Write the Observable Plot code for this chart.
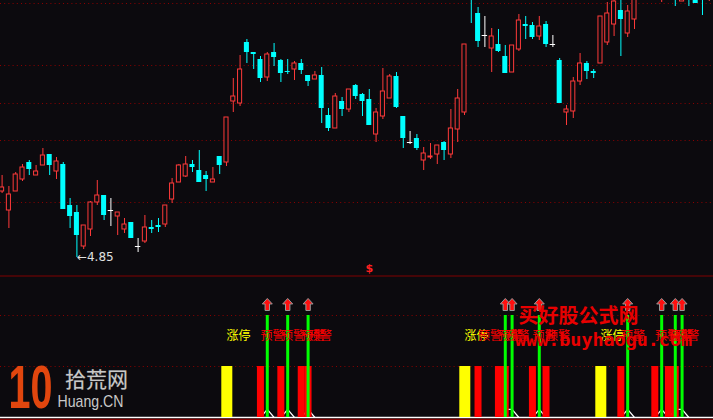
<!DOCTYPE html>
<html><head><meta charset="utf-8">
<script src="https://cdn.jsdelivr.net/npm/d3@7"></script>
<script src="https://cdn.jsdelivr.net/npm/@observablehq/plot@0.6"></script>
<style>
html,body{margin:0;padding:0;background:#0c0a0e;}
#chart{width:713px;height:420px;overflow:hidden;background:#0c0a0e;}
#chart svg{display:block;}
</style></head><body><div id="chart"></div>
<script>
// ---- data (prices per bar, index 0..104) ----
const opens = [5.51,5.32,5.51,5.63,5.80,5.67,5.77,5.88,5.71,5.78,
5.37,5.30,4.96,5.13,5.40,5.47,5.32,5.26,5.13,5.20,
4.96,5.01,5.15,5.17,5.18,5.43,5.60,5.66,5.78,5.72,
5.67,5.60,5.86,5.80,6.41,6.39,7.00,6.90,6.83,6.65,
6.90,6.82,6.71,6.73,6.79,6.67,6.63,6.67,6.27,6.14,
6.41,6.33,6.57,6.48,6.43,6.08,6.26,6.44,6.66,6.26,
6.00,6.04,5.82,5.85,5.88,6.00,5.88,6.13,6.30,7.55,
7.29,7.07,6.94,6.98,6.86,6.70,6.93,7.18,7.17,7.06,
7.18,6.98,6.82,6.30,6.31,6.61,6.79,6.71,6.79,7.00,
7.18,7.32,7.09,7.23,7.48,7.58,7.52,7.48,7.55,7.62,
7.41,7.55,7.50,7.52,7.46];
const highs = [5.67,5.56,5.70,5.78,5.82,5.77,5.94,5.88,5.85,5.80,
5.44,5.37,5.17,5.41,5.62,5.47,5.44,5.30,5.24,5.20,
5.04,5.27,5.22,5.24,5.37,5.64,5.78,5.86,5.82,5.92,
5.71,5.75,5.86,6.25,6.64,6.87,7.03,6.90,6.86,6.90,
6.99,6.83,6.83,6.81,6.83,6.67,6.71,6.75,6.34,6.49,
6.45,6.53,6.58,6.49,6.53,6.34,6.74,6.68,6.70,6.26,
6.11,6.08,5.95,5.99,5.97,6.01,6.33,6.53,6.98,7.58,
7.35,7.26,7.14,7.13,6.97,6.97,7.28,7.26,7.20,7.26,
7.21,7.07,6.84,6.37,6.65,6.89,6.81,6.73,7.26,7.40,
7.44,7.45,7.37,7.50,7.60,7.62,7.64,7.62,7.66,7.66,
7.56,7.58,7.54,7.55,7.55];
const lows = [5.49,5.14,5.51,5.61,5.67,5.67,5.77,5.67,5.63,5.33,
5.14,4.85,4.93,5.06,5.37,5.22,5.16,5.07,5.09,5.04,
4.90,4.99,5.09,5.10,5.15,5.39,5.60,5.65,5.70,5.60,
5.51,5.60,5.68,5.76,6.30,6.36,6.79,6.73,6.60,6.61,
6.76,6.60,6.68,6.62,6.68,6.56,6.63,6.19,6.11,6.14,
6.26,6.30,6.43,6.26,6.17,6.00,6.23,6.44,6.34,5.94,
5.98,5.92,5.72,5.83,5.78,5.82,5.84,6.00,6.27,7.19,
6.95,6.95,6.70,6.90,6.69,6.70,6.91,7.03,7.03,7.02,
6.95,6.95,6.39,6.17,6.24,6.57,6.63,6.64,6.79,6.97,
7.06,6.86,7.05,7.13,7.44,7.47,7.48,7.40,7.50,7.36,
7.41,7.36,7.39,7.27,7.41];
const closes = [5.55,5.48,5.68,5.75,5.73,5.71,5.87,5.77,5.81,5.33,
5.26,5.07,5.17,5.40,5.47,5.27,5.32,5.30,5.18,5.04,
4.96,5.15,5.13,5.15,5.37,5.59,5.77,5.78,5.75,5.60,
5.63,5.63,5.77,6.25,6.46,6.73,6.90,6.88,6.64,6.88,
6.85,6.69,6.70,6.79,6.72,6.61,6.67,6.34,6.14,6.46,
6.33,6.53,6.46,6.41,6.17,6.30,6.51,6.66,6.35,6.04,
6.00,5.94,5.89,5.86,5.97,5.92,6.14,6.44,6.98,7.44,
7.01,7.07,7.06,6.91,6.69,6.97,7.22,7.16,7.05,7.16,
6.98,6.98,6.39,6.33,6.61,6.79,6.71,6.69,7.26,7.29,
7.41,7.23,7.31,7.46,7.56,7.52,7.60,7.56,7.62,7.50,
7.52,7.47,7.39,7.45,7.52];
const gridPrices = [7.39, 6.77, 6.39, 6.02, 5.40];
const lowIndex = 11;
const lowText = "←4.85";
const markIndex = 54;           // the "$" marker
const limitUpIdx = [33, 68, 88];                           // 涨停 (yellow)
const warnIdx = [38,41,44,45,70,73,74,78,80,91,96,98,99];  // 预警 (red)
const buyIdx = [39,42,45,74,75,79,92,97,99,100];           // green signal + arrow
const pulseIdx = [39,42,45,74,75,79,92,97,99,100];         // white pulse line
const pulseLevel = 0.16;
const limitUpLabel = "涨停", warnLabel = "预警";

// ---- build table ----
const bars = opens.map((o, i) => ({i, o, h: highs[i], l: lows[i], c: closes[i]}));
const upBars = bars.filter(d => d.c > d.o);
const downBars = bars.filter(d => d.c < d.o);
const dojiBars = bars.filter(d => d.c === d.o);
const pulse = bars.map(d => ({i: d.i, v: pulseIdx.includes(d.i) ? pulseLevel : 0}));

const BG = "#0c0a0e", RED = "#ff3a3a", CYAN = "#00ffff", GRID = "#8c0000";
const xScale = {type: "linear", domain: [-0.235, 104.62], axis: null};

const pricePanel = Plot.plot({
  width: 713, height: 275, margin: 0,
  x: xScale,
  y: {domain: [4.67, 7.42], axis: null},
  style: {background: "transparent", overflow: "hidden"},
  marks: [
    Plot.ruleY(gridPrices, {stroke: GRID, strokeDasharray: "1,3.2", strokeWidth: 1}),
    Plot.ruleX(upBars, {x: "i", y1: "l", y2: "h", stroke: RED}),
    Plot.ruleX(downBars, {x: "i", y1: "l", y2: "h", stroke: CYAN}),
    Plot.ruleX(dojiBars, {x: "i", y1: "l", y2: "h", stroke: "#ffffff"}),
    Plot.rect(upBars, {x1: d => d.i - 0.3, x2: d => d.i + 0.3, y1: "o", y2: "c", fill: BG, stroke: RED, strokeWidth: 1}),
    Plot.rect(downBars, {x1: d => d.i - 0.37, x2: d => d.i + 0.37, y1: "o", y2: "c", fill: CYAN}),
    Plot.ruleY(dojiBars, {x1: d => d.i - 0.4, x2: d => d.i + 0.4, y: "o", stroke: "#ffffff"}),
    Plot.text([bars[lowIndex]], {x: "i", y: "l", text: () => lowText, textAnchor: "start", fill: "#e0e0e0", fontSize: 12, fontFamily: "DejaVu Sans"}),
    Plot.text([bars[markIndex]], {x: "i", y: () => 4.74, text: () => "$", fill: "#ff2020", fontSize: 11, fontWeight: "bold", fontFamily: "DejaVu Sans"})
  ]
});

const arrowUp = {
  draw(ctx, size) {
    const r = Math.sqrt(size / Math.PI), s = r / 6;
    ctx.moveTo(0, -6 * s);
    ctx.lineTo(5 * s, -0.5 * s);
    ctx.lineTo(2.2 * s, -0.5 * s);
    ctx.lineTo(2.2 * s, 6 * s);
    ctx.lineTo(-2.2 * s, 6 * s);
    ctx.lineTo(-2.2 * s, -0.5 * s);
    ctx.lineTo(-5 * s, -0.5 * s);
    ctx.closePath();
  }
};

const limitBars = limitUpIdx.map(i => ({i}));
const warnBars = warnIdx.map(i => ({i}));
const buyBars = buyIdx.map(i => ({i}));

const signalPanel = Plot.plot({
  width: 713, height: 145, margin: 0,
  x: xScale,
  y: {domain: [-0.0588, 2.784], axis: null},
  style: {background: "transparent", overflow: "hidden"},
  marks: [
    Plot.ruleY([2.774], {stroke: "#800000", strokeWidth: 1}),
    Plot.ruleY([1, 2], {stroke: GRID, strokeDasharray: "1,3.2"}),
    Plot.ruleY([0], {stroke: "#ffffff", strokeWidth: 1.5}),
    Plot.ruleY([-0.04], {stroke: "#800000", strokeWidth: 1.5}),
    Plot.line(pulse, {x: "i", y: "v", stroke: "#ffffff", strokeWidth: 1.2}),
    Plot.rect(limitBars, {x1: d => d.i - 0.69, x2: d => d.i + 0.93, y1: 0, y2: 1, fill: "#ffff00"}),
    Plot.rect(warnBars, {x1: d => d.i - 0.45, x2: d => d.i + 0.58, y1: 0, y2: 1, fill: "#ff0000"}),
    Plot.ruleX(buyBars, {x: "i", y1: 0, y2: 2, stroke: "#00ff00", strokeWidth: 3}),
    Plot.dot(buyBars, {x: "i", y: () => 2.216, symbol: arrowUp, r: 6, fill: "#ff1010", stroke: "#9a9a9a", strokeWidth: 1}),
    Plot.text(limitBars, {x: "i", y: () => 1.588, text: () => limitUpLabel, textAnchor: "start", fill: "#ffff00", fontSize: 12, fontFamily: "Noto Sans CJK SC"}),
    Plot.text(warnBars, {x: "i", y: () => 1.588, text: () => warnLabel, textAnchor: "start", fill: "#ff0000", fontSize: 12, fontFamily: "Noto Sans CJK SC"}),
    // logo (bottom-left)
    Plot.text(["10"], {frameAnchor: "top-left", lineAnchor: "middle", dx: 30, dy: 113, text: d => d, fill: "#e2460e", fontSize: 62, fontWeight: "bold", fontFamily: "Liberation Sans", textAnchor: "middle"}),
    Plot.text(["拾荒网"], {frameAnchor: "top-left", lineAnchor: "middle", dx: 96, dy: 105, text: d => d, fill: "#c8c8c8", stroke: "#555", strokeWidth: 0.5, fontSize: 21, fontFamily: "Noto Sans CJK SC", textAnchor: "middle"}),
    Plot.text(["Huang.CN"], {frameAnchor: "top-left", lineAnchor: "middle", dx: 90, dy: 126, text: d => d, fill: "#c8c8c8", fontSize: 17, fontFamily: "Liberation Sans", textAnchor: "middle"}),
    // watermark
    Plot.text(["买好股公式网"], {frameAnchor: "top-left", lineAnchor: "middle", dx: 578, dy: 41, text: d => d, fill: "#e80000", fontSize: 20, fontWeight: "bold", fontFamily: "Noto Sans CJK SC", textAnchor: "middle"}),
    Plot.text(["www.buyhaogu.com"], {frameAnchor: "top-left", lineAnchor: "middle", dx: 603, dy: 65, text: d => d, fill: "#e80000", fontSize: 18, fontWeight: "bold", fontFamily: "DejaVu Sans Mono", textAnchor: "middle"})
  ]
});

// squeeze logo/watermark words to the widths they take in the picture
const fitWidths = {"10": 44, "Huang.CN": 66, "www.buyhaogu.com": 177};
d3.select(signalPanel).selectAll("text").each(function() {
  const w = fitWidths[this.textContent];
  if (w) { this.setAttribute("textLength", w); this.setAttribute("lengthAdjust", "spacingAndGlyphs"); }
});

const root = document.getElementById("chart");
root.appendChild(pricePanel);
root.appendChild(signalPanel);
</script>
</body></html>
